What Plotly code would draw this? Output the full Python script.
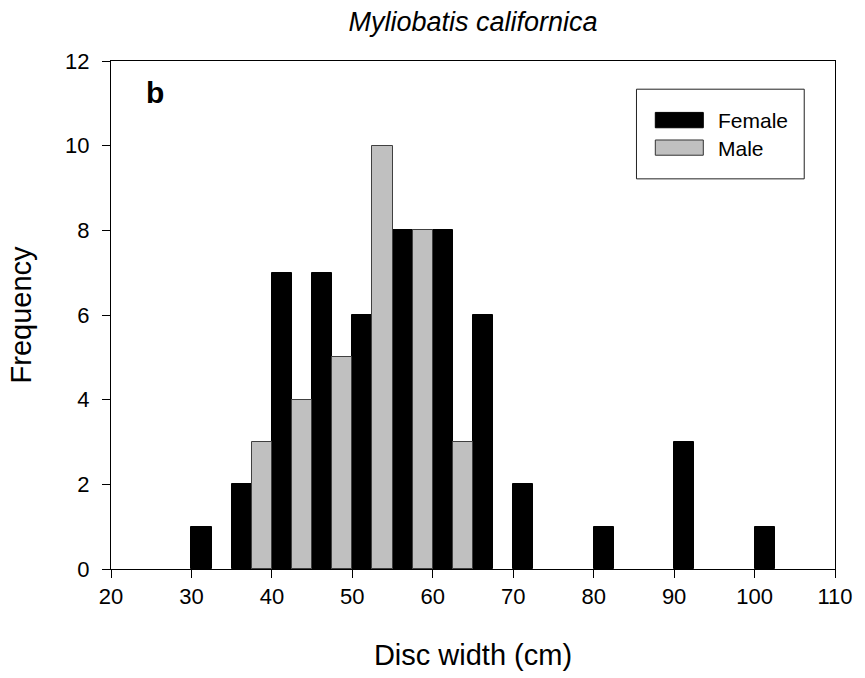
import plotly.graph_objects as go

# Data (disc width bins, 2.5 cm wide; value = bin start)
female_bin_start = [30, 35, 40, 45, 50, 55, 60, 65, 70, 80, 90, 100]
female_counts = [1, 2, 7, 7, 6, 8, 8, 6, 2, 1, 3, 1]
male_bin_start = [37.5, 42.5, 47.5, 52.5, 57.5, 62.5]
male_counts = [3, 4, 5, 10, 8, 3]
bin_width = 2.5

x_ticks = [20, 30, 40, 50, 60, 70, 80, 90, 100, 110]
y_ticks = [0, 2, 4, 6, 8, 10, 12]

FONT = "Arial, Liberation Sans, sans-serif"

fig = go.Figure()
fig.add_trace(go.Bar(
    x=[s + bin_width / 2 for s in female_bin_start], y=female_counts,
    width=bin_width, name="Female",
    marker=dict(color="black", line=dict(color="black", width=1)),
    showlegend=False,
))
fig.add_trace(go.Bar(
    x=[s + bin_width / 2 for s in male_bin_start], y=male_counts,
    width=bin_width, name="Male",
    marker=dict(color="#c0c0c0", line=dict(color="#404040", width=1)),
    showlegend=False,
))

# Custom legend (box, swatches, labels) in paper coordinates
shapes = [
    dict(type="rect", xref="paper", yref="paper", x0=0.7258, x1=0.9575, y0=0.768, y1=0.9445,
         line=dict(color="#222222", width=1), fillcolor="white", layer="above"),
    dict(type="rect", xref="paper", yref="paper", x0=0.7518, x1=0.8181, y0=0.8686, y1=0.8988,
         line=dict(color="black", width=1), fillcolor="black", layer="above"),
    dict(type="rect", xref="paper", yref="paper", x0=0.7518, x1=0.8181, y0=0.8145, y1=0.8445,
         line=dict(color="#333333", width=1), fillcolor="#c0c0c0", layer="above"),
]
annotations = [
    dict(text="Female", xref="paper", yref="paper", x=0.8355, y=0.8824, xanchor="left",
         yanchor="middle", showarrow=False, font=dict(family=FONT, size=21, color="black")),
    dict(text="Male", xref="paper", yref="paper", x=0.8355, y=0.8282, xanchor="left",
         yanchor="middle", showarrow=False, font=dict(family=FONT, size=21, color="black")),
    dict(text="<b>b</b>", xref="paper", yref="paper", x=0.045, y=0.938, xanchor="left",
         yanchor="middle", showarrow=False, font=dict(family=FONT, size=30, color="black")),
]

fig.update_layout(
    width=865, height=678,
    margin=dict(l=111, r=25, t=61, b=107),
    paper_bgcolor="white", plot_bgcolor="white",
    barmode="overlay", bargap=0,
    font=dict(family=FONT, color="black"),
    title=dict(text="<i>Myliobatis californica</i>", x=0.5, xref="paper", xanchor="center",
               y=1 - 22 / 678, yref="container", yanchor="middle",
               font=dict(family=FONT, size=27, color="black")),
    shapes=shapes, annotations=annotations,
)
fig.update_xaxes(
    range=[20, 110], tickvals=x_ticks, ticktext=[str(v) for v in x_ticks],
    showgrid=False, zeroline=False,
    showline=True, linecolor="black", linewidth=1, mirror=True,
    ticks="outside", ticklen=8, tickwidth=1, tickcolor="black",
    tickfont=dict(family=FONT, size=22, color="black"),
    title=dict(text="Disc width (cm)", font=dict(family=FONT, size=29, color="black"), standoff=36),
)
fig.update_yaxes(
    range=[0, 12], tickvals=y_ticks, ticktext=[str(v) for v in y_ticks],
    showgrid=False, zeroline=False,
    showline=True, linecolor="black", linewidth=1, mirror=True,
    ticks="outside", ticklen=8, tickwidth=1, tickcolor="black",
    ticklabelstandoff=8,
    tickfont=dict(family=FONT, size=22, color="black"),
    title=dict(text="Frequency", font=dict(family=FONT, size=29, color="black"), standoff=24),
)

fig.write_html("out.html")
